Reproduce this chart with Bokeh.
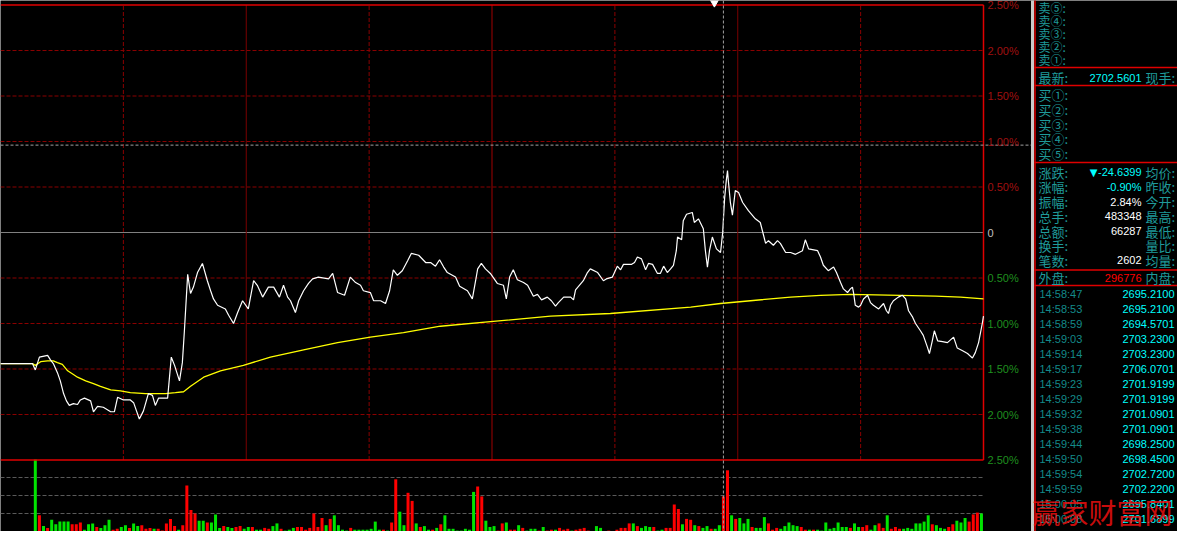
from bokeh.plotting import figure
from bokeh.models import Range1d, Span
from bokeh.core.properties import value
from bokeh.embed import file_html
from bokeh.resources import INLINE

# ---------------- data ----------------
# intraday price, minutes after 09:30 vs % change from previous close
price_min = [0.0, 7.8, 8.5, 9.5, 11.5, 12.2, 12.9, 13.9, 14.6, 15.4, 16.1, 16.8, 17.8, 18.8, 19.5, 20.5, 22.0, 22.7,
             23.7, 25.1, 26.9, 27.8, 28.6, 30.0, 31.7, 32.5, 33.2, 33.9, 34.9, 35.6, 36.1, 37.1, 37.8, 38.6, 39.8,
             40.8, 41.7, 42.5, 43.7, 44.4, 44.9, 45.7, 46.4, 47.1, 48.1, 49.3, 50.5, 51.3, 52.0, 53.0, 54.9, 55.7,
             56.9, 57.9, 59.1, 60.5, 61.8, 62.7, 64.0, 65.4, 66.7, 68.1, 69.1, 70.1, 70.8, 72.0, 72.8, 74.0, 75.2,
             76.2, 77.6, 80.1, 81.1, 82.3, 84.0, 85.4, 86.7, 87.9, 88.6, 90.3, 91.1, 92.8, 94.0, 95.0, 95.9, 96.9,
             98.1, 99.4, 100.3, 102.1, 103.8, 105.0, 106.2, 107.2, 108.2, 109.1, 111.1, 112.1, 114.0, 115.2, 116.0,
             116.5, 117.4, 118.4, 119.6, 121.3, 122.8, 123.5, 124.3, 125.2, 126.2, 127.7, 128.7, 130.1, 131.1,
             132.1, 133.5, 134.5, 135.5, 136.2, 137.5, 139.2, 139.9, 140.4, 142.3, 143.3, 144.0, 145.8, 147.2,
             147.9, 149.4, 150.6, 151.4, 152.1, 154.1, 154.8, 155.5, 156.5, 157.5, 158.2, 159.2, 160.4, 161.1,
             161.9, 162.8, 163.6, 164.3, 165.0, 165.3, 166.3, 166.7, 167.5, 168.9, 169.4, 170.4, 171.6, 172.1,
             172.6, 173.1, 173.8, 174.8, 175.8, 176.3, 176.8, 177.2, 177.5, 177.7, 178.2, 178.7, 179.4, 180.2,
             181.2, 182.6, 184.3, 185.5, 186.3, 186.8, 187.5, 188.7, 189.7, 190.4, 191.7, 192.9, 194.1, 195.8,
             196.5, 197.3, 199.5, 200.2, 200.9, 202.1, 203.4, 204.1, 205.1, 205.8, 206.8, 207.5, 208.0, 208.3,
             208.7, 209.5, 210.0, 210.7, 211.7, 212.4, 213.1, 214.4, 215.6, 216.3, 216.8, 217.3, 218.0, 219.2,
             220.2, 221.0, 221.7, 222.7, 223.4, 224.6, 225.3, 226.3, 226.8, 227.5, 228.0, 228.8, 230.0, 231.2,
             232.7, 233.6, 234.9, 236.1, 237.3, 238.0, 238.8, 239.7, 240.0]
price_pct = [-1.44, -1.44, -1.51, -1.37, -1.35, -1.40, -1.44, -1.54, -1.63, -1.77, -1.85, -1.90, -1.88, -1.89, -1.84,
             -1.82, -1.85, -1.97, -1.91, -1.92, -1.97, -1.97, -1.81, -1.84, -1.84, -1.87, -1.96, -2.05, -1.96, -1.85,
             -1.77, -1.79, -1.90, -1.82, -1.82, -1.82, -1.37, -1.46, -1.63, -1.43, -1.08, -0.46, -0.67, -0.60, -0.44,
             -0.34, -0.53, -0.64, -0.73, -0.80, -0.84, -0.91, -1.00, -0.88, -0.75, -0.84, -0.53, -0.58, -0.71, -0.60,
             -0.60, -0.71, -0.58, -0.71, -0.75, -0.88, -0.75, -0.64, -0.56, -0.51, -0.49, -0.51, -0.45, -0.66, -0.69,
             -0.49, -0.55, -0.58, -0.64, -0.66, -0.75, -0.75, -0.78, -0.64, -0.41, -0.47, -0.42, -0.31, -0.23, -0.25,
             -0.33, -0.33, -0.37, -0.30, -0.38, -0.44, -0.49, -0.59, -0.64, -0.73, -0.53, -0.40, -0.34, -0.40, -0.45,
             -0.56, -0.58, -0.73, -0.49, -0.41, -0.52, -0.55, -0.58, -0.70, -0.68, -0.74, -0.71, -0.75, -0.81, -0.77,
             -0.71, -0.71, -0.74, -0.63, -0.53, -0.44, -0.40, -0.44, -0.53, -0.51, -0.49, -0.37, -0.41, -0.35, -0.35,
             -0.33, -0.27, -0.29, -0.41, -0.34, -0.35, -0.45, -0.45, -0.37, -0.44, -0.40, -0.36, -0.20, -0.05, -0.08,
             0.13, 0.20, 0.22, 0.11, 0.15, 0.04, -0.20, -0.38, -0.20, -0.05, -0.18, -0.22, -0.01, 0.38, 0.57, 0.68,
             0.57, 0.33, 0.19, 0.46, 0.44, 0.33, 0.24, 0.15, 0.11, -0.03, -0.12, -0.09, -0.14, -0.09, -0.12, -0.22,
             -0.22, -0.24, -0.20, -0.08, -0.18, -0.20, -0.27, -0.36, -0.42, -0.38, -0.44, -0.55, -0.62, -0.66, -0.62,
             -0.60, -0.67, -0.80, -0.82, -0.80, -0.73, -0.69, -0.77, -0.80, -0.84, -0.78, -0.86, -0.89, -0.80, -0.75,
             -0.71, -0.69, -0.73, -0.86, -0.93, -1.00, -1.08, -1.13, -1.26, -1.33, -1.19, -1.08, -1.19, -1.20, -1.21,
             -1.15, -1.27, -1.30, -1.33, -1.38, -1.32, -1.21, -1.00, -0.92]

# average price line
avg_min = [0.0, 7.8, 8.5, 9.8, 11.5, 12.9, 13.9, 15.1, 16.4, 17.8, 18.8, 20.8, 22.7, 24.4, 26.9, 29.3, 31.7, 35.4,
           40.3, 42.7, 44.7, 46.4, 49.6, 53.7, 59.3, 65.9, 74.0, 82.3, 90.3, 98.4, 107.4, 119.6, 134.3, 148.9,
           168.5, 175.8, 183.1, 192.9, 200.2, 207.5, 219.7, 228.3, 234.4, 240.0]
avg_pct = [-1.44, -1.44, -1.46, -1.42, -1.41, -1.41, -1.43, -1.45, -1.52, -1.56, -1.59, -1.63, -1.66, -1.69, -1.73,
           -1.74, -1.76, -1.77, -1.77, -1.76, -1.75, -1.69, -1.59, -1.52, -1.46, -1.37, -1.29, -1.21, -1.15, -1.10,
           -1.03, -0.98, -0.92, -0.89, -0.82, -0.78, -0.75, -0.71, -0.69, -0.68, -0.69, -0.70, -0.71, -0.73]

# per-minute volume (手), first bar at minute 8
vol_first_minute = 8
volume = [20000, 4500, 1500, 1000, 3250, 2000, 2750, 2750, 2750, 2000, 2000, 2500, 500, 2000, 2250, 1250, 1000,
          1750, 3250, 500, 750, 1250, 1750, 1000, 2250, 1500, 1750, 750, 1000, 750, 750, 250, 2250, 3500, 1500,
          500, 1750, 12750, 6000, 5000, 3000, 3000, 2500, 2500, 4750, 1000, 1500, 1250, 1000, 1250, 1500, 750,
          1250, 1250, 500, 500, 1000, 750, 1500, 2250, 750, 250, 500, 1000, 1250,
          1250, 500, 1000, 5000, 1250, 3750, 1750, 3500, 4500, 1750, 500, 250, 1000, 500, 500, 500, 500, 750,
          2750, 500, 500, 250, 2500, 14500, 5500, 1750, 10750, 8500, 2250, 1250, 1500, 500, 500, 1000, 2000,
          4500, 750, 750, 250, 250, 750, 500, 11000, 12500, 9750, 3000, 1250, 1500, 250, 2250, 2500, 500, 500,
          1750, 1000, 250, 750, 750, 250, 1250, 250, 500, 500, 1000, 500, 750, 250, 500, 750, 1000, 250, 0,
          1500, 1000, 0, 250, 0, 500, 1000, 1000, 2250, 2250, 1500, 1000, 1500, 1250, 1250, 250, 500, 1000,
          1000, 7500, 6250, 2000, 3500, 3250, 1750, 1500,
          1000, 1500, 750, 750, 1750, 9750, 17000, 4500, 3500, 3750, 2250, 3500, 1250, 1000, 1000, 4000, 2250,
          500, 1000, 750, 1500, 2500, 1750, 1500, 1250, 500, 500, 500, 500, 250, 2500, 750, 1000, 2500, 1250,
          1250, 1000, 2250, 1250, 1250, 1750, 500, 1750, 2250, 1000, 4500, 750, 1250, 750, 750, 1000, 750, 2250,
          2250, 2750, 4500, 2000, 1750, 1000, 750, 1250, 2000, 3000, 2500, 3750, 2750, 4750, 5250, 5000]
# 1 = up minute (red bar), 0 = down minute (green bar)
vol_up = [0, 1, 0, 1, 0, 0, 0, 0, 0, 1, 1, 1, 0, 0, 0, 1, 0, 0, 0, 1, 1, 0, 0, 1, 0, 0, 1, 1, 1, 0, 1, 1, 1, 1, 1,
          0, 1, 1, 1, 1, 0, 0, 1, 0, 0, 0, 1, 0, 0, 1, 1, 0, 0, 1, 0, 0, 1, 1, 0, 0, 1, 0, 0, 0, 1,
          1, 1, 1, 1, 1, 1, 0, 1, 0, 0, 0, 0, 1, 0, 0, 0, 0, 0, 0, 0, 1, 0, 1, 1, 0, 0, 1, 1, 0, 1, 0, 0, 1, 0,
          1, 0, 0, 0, 0, 0, 0, 0, 0, 1, 1, 0, 0, 0, 1, 1, 0, 1, 1, 0, 1, 0, 0, 0, 1, 0, 1, 1, 0, 1, 1, 1, 0, 1,
          1, 1, 1, 0, 0, 0, 0, 1, 0, 1, 1, 1, 1, 0, 1, 0, 0, 0, 1, 0, 0, 1, 1, 1, 1, 0, 1, 1, 0, 1,
          0, 0, 1, 0, 0, 1, 1, 0, 1, 0, 0, 0, 1, 0, 0, 0, 1, 1, 1, 0, 0, 0, 0, 0, 1, 1, 0, 1, 0, 0, 0, 0, 0, 0,
          0, 0, 1, 0, 0, 1, 1, 0, 0, 1, 1, 0, 1, 1, 1, 0, 0, 0, 0, 0, 0, 0, 1, 0, 0, 0, 1, 1, 0, 0, 0, 1, 1, 1, 0]

pct_levels = [2.5, 2.0, 1.5, 1.0, 0.5, 0.0, -0.5, -1.0, -1.5, -2.0, -2.5]
grid_minutes_dashed = [30, 90, 150, 210]
grid_minutes_solid = [60, 180]
noon_minute = 120
vol_axis_max = 20000
vol_grid = [5000, 10000, 15000]
cursor_minute = 176.5
cursor_pct = 0.96

sell_labels = ["卖⑤:", "卖④:", "卖③:", "卖②:", "卖①:"]
buy_labels = ["买①:", "买②:", "买③:", "买④:", "买⑤:"]
latest_label, latest_price, latest_right = "最新:", "2702.5601", "现手:"
stat_labels = ["涨跌:", "涨幅:", "振幅:", "总手:", "总额:", "换手:", "笔数:"]
stat_values = ["-24.6399", "-0.90%", "2.84%", "483348", "66287", "", "2602"]
stat_right = ["均价:", "昨收:", "今开:", "最高:", "最低:", "量比:", "均量:"]
outer_label, outer_value, inner_label = "外盘:", "296776", "内盘:"
tick_times = ["14:58:47", "14:58:53", "14:58:59", "14:59:03", "14:59:14", "14:59:17", "14:59:23", "14:59:29",
              "14:59:32", "14:59:38", "14:59:44", "14:59:50", "14:59:54", "14:59:59", "15:00:05", "15:00:08"]
tick_prices = ["2695.2100", "2695.2100", "2694.5701", "2703.2300", "2703.2300", "2706.0701", "2701.9199",
               "2701.9199", "2701.0901", "2701.0901", "2698.2500", "2698.4500", "2702.7200", "2702.2200",
               "2695.8401", "2701.6899"]
watermark = "赢家财富网"

# ---------------- layout (reference pixel geometry, 1:1) ----------------
W, H = 1177, 531          # canvas that fits the window with its 8px margin
PXM = 983 / 240           # px per minute
ZERO_Y, PXP = 232, 91     # y of 0 %, px per 1 %
VOL_TOP = 459             # top of the volume panel (px)


def dx(px):
    return px / PXM


def dy(py):
    return (ZERO_Y - py) / PXP


p = figure(width=W, height=H, output_backend="svg", toolbar_location=None,
           x_range=Range1d(dx(0), dx(W)), y_range=Range1d(dy(H), dy(0)),
           x_axis_location=None, y_axis_location=None, min_border=0,
           background_fill_color="black", border_fill_color="black", outline_line_color=None)
p.grid.visible = False
p.extra_y_ranges = {"vol": Range1d(0, vol_axis_max * H / (H - VOL_TOP))}

DR = "#8a0000"
# horizontal grid
hl = [l for l in pct_levels if abs(l) not in (0.0, 2.5)]
p.segment(x0=[0] * len(hl), x1=[240] * len(hl), y0=hl, y1=hl, line_color=DR, line_dash="4 2", line_width=1)
p.segment(x0=[0], x1=[240], y0=[0], y1=[0], line_color="#808080", line_width=1)
# vertical grid
p.segment(x0=grid_minutes_dashed, x1=grid_minutes_dashed, y0=[-2.5] * 4, y1=[2.5] * 4,
          line_color=DR, line_dash="4 2", line_width=1)
p.segment(x0=grid_minutes_solid, x1=grid_minutes_solid, y0=[-2.5] * 2, y1=[2.5] * 2, line_color="#7a0000", line_width=1)
p.segment(x0=[noon_minute], x1=[noon_minute], y0=[-2.5], y1=[2.5], line_color="#a00000", line_width=1)
# volume grid
p.segment(x0=[0] * 3, x1=[240] * 3, y0=vol_grid, y1=vol_grid, y_range_name="vol",
          line_color="#5a5a5a", line_dash="4 2", line_width=1)

# volume bars
vx = [vol_first_minute + k + 0.5 for k in range(len(volume))]
vcol = ["#ff0000" if u else "#00e400" for u in vol_up]
p.vbar(x=vx, top=volume, bottom=0, width=0.73, y_range_name="vol", fill_color=vcol, line_color=None)

# frame
p.segment(x0=[0, 0], x1=[240, 240], y0=[-2.5, 2.5], y1=[-2.5, 2.5], line_color="#e00000", line_width=1.5)
p.segment(x0=[240], x1=[240], y0=[-2.5], y1=[2.5], line_color="#e00000", line_width=1.5)

# lines
p.line(avg_min, avg_pct, line_color="#ffff00", line_width=1.3)
p.line(price_min, price_pct, line_color="white", line_width=1.2)

# crosshair
p.add_layout(Span(location=cursor_minute, dimension="height", line_color="#a0a0a0", line_dash="3 2", line_width=1))
p.segment(x0=[0], x1=[dx(1031)], y0=[cursor_pct], y1=[cursor_pct], line_color="#a0a0a0", line_dash="3 2", line_width=1)
p.scatter(x=[cursor_minute - 2.2], y=[dy(2)], marker="inverted_triangle", size=8, fill_color="white", line_color="white")

# right axis labels
lab = ["0" if l == 0 else f"{abs(l):.2f}%" for l in pct_levels]
lcol = ["#c0c0c0" if l == 0 else ("#a01010" if l > 0 else "#1f8f1f") for l in pct_levels]
p.text(x=[dx(987)] * len(lab), y=pct_levels, text=lab, text_color=lcol, text_font=value("Liberation Sans"),
       text_font_size=value("11px"), text_align="left", text_baseline="middle")

# right panel separators
p.segment(x0=[dx(1032)], x1=[dx(1032)], y0=[dy(-5)], y1=[dy(545)], line_color="#c8c8c8", line_width=3)
p.segment(x0=[dx(1034.5)], x1=[dx(1034.5)], y0=[dy(-5)], y1=[dy(545)], line_color="#e00000", line_width=1.5)
sep_y = [67, 85, 162, 269.5, 285]
p.segment(x0=[dx(1034)] * 5, x1=[dx(1190)] * 5, y0=[dy(v) for v in sep_y], y1=[dy(v) for v in sep_y],
          line_color="#e00000", line_width=1.5)

TEAL, CYAN = "#1f9a9a", "#00ffff"
CJK = value("Noto Sans CJK SC")
NUM = value("Liberation Sans")


def put(xpx, ypx, texts, color, font=CJK, size="13px", align="left", alpha=1.0):
    n = len(texts)
    p.text(x=[dx(xpx)] * n, y=[dy(v) for v in ypx], text=texts, text_color=color, text_font=font,
           text_font_size=value(size), text_align=align, text_baseline="middle", text_alpha=alpha)


sell_y = [7, 20, 33, 46, 59]
buy_y = [94 + 14.8 * k for k in range(5)]
stat_y = [171.7 + 14.7 * k for k in range(7)]
tick_y = [293 + 15 * k for k in range(len(tick_times))]

VAL_R, RLAB_X, TP_X = 1141, 1145, 1122

put(1038, sell_y, sell_labels, TEAL, size="12px")
put(1038, [77], [latest_label], TEAL)
put(VAL_R, [77], [latest_price], CYAN, NUM, "11px", "right")
put(RLAB_X, [77], [latest_right], TEAL)
put(1038, buy_y, buy_labels, TEAL)
put(1038, stat_y, stat_labels, TEAL)
scol = [CYAN, CYAN, "white", "white", "white", "white", "white"]
put(VAL_R, stat_y, stat_values, scol, NUM, "11px", "right")
put(1093, [stat_y[0]], ["▼"], CYAN, value("DejaVu Sans"), "10px", "center")
put(RLAB_X, stat_y, stat_right, TEAL)
put(1038, [277], [outer_label], TEAL)
put(VAL_R, [277], [outer_value], "#ff0000", NUM, "11px", "right")
put(RLAB_X, [277], [inner_label], TEAL)
put(1039, tick_y, tick_times, "#138a8a", NUM, "11px")
put(TP_X, tick_y, tick_prices, CYAN, NUM, "11px")

# watermark
put(1032, [511], [watermark], "#ff1010", CJK, "28px", alpha=0.8)

open("out.html", "w").write(file_html(p, INLINE))
